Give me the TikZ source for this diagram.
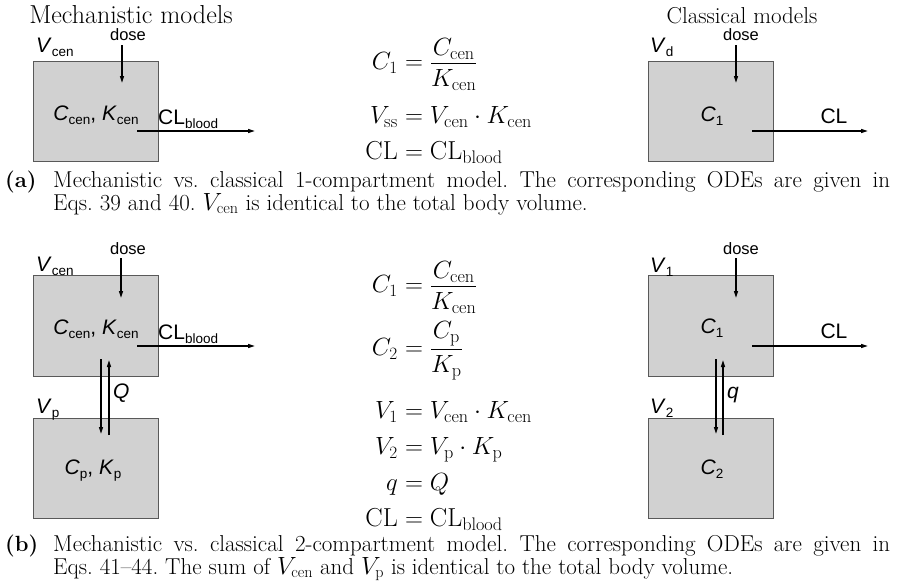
\documentclass[tikz,border=0pt]{standalone}
\usepackage{fontspec}
\usepackage{amsmath}
\usetikzlibrary{arrows.meta}
\newfontfamily\labfont{Liberation Sans}
\newcommand\lsub[1]{\raisebox{-4.5pt}{\fontsize{13.5}{14}\selectfont #1}}
\newcommand\numer[1]{\lower4.5pt\hbox{$\displaystyle #1$}}
\tikzset{
  comp/.style={draw=black!65, line width=0.8pt, fill=black!18, minimum width=125pt, minimum height=100pt, inner sep=0pt, outer sep=0pt},
  lab/.style={font=\labfont\fontsize{21}{22}\selectfont, inner sep=0pt},
  doselab/.style={font=\labfont\fontsize{16.5}{18}\selectfont, inner sep=0pt, anchor=base},
  flow/.style={line width=1.3pt, -{Triangle[length=7pt,width=4pt]}},
  eq/.style={font=\fontsize{26}{30}\selectfont, inner sep=0pt},
  ttl/.style={inner sep=0pt, anchor=base},
  captext/.style={font=\fontsize{23}{25}\selectfont\frenchspacing, inner sep=0pt, anchor=base west},
  caplab/.style={font=\fontsize{22}{24}\selectfont\bfseries, inner sep=0pt, anchor=base west},
}
\begin{document}
\begin{tikzpicture}[x=1pt,y=-1pt]
\useasboundingbox (0,0) rectangle (898,584);
% titles
\node[ttl, font=\fontsize{26}{30}\selectfont] (t1) at (131,23) {Mechanistic models};
\node[ttl, font=\fontsize{23}{27}\selectfont] (t2) at (742,23) {Classical models};
% ---------- panel (a) left
\node[comp] (a1) at (95.5,111) {};
\node[lab, anchor=base west] (a1v) at (36,52) {\textit{V}\lsub{cen}};
\node[doselab] (a1d) at (128,40.5) {dose};
\coordinate (a1ds) at (122,45); \coordinate (a1de) at (122,83);
\draw[flow] (a1ds) -- (a1de);
\node[lab, anchor=base] (a1c) at (96,120) {\textit{C}\lsub{cen}, \textit{K}\lsub{cen}};
\node[lab, anchor=base west] (a1cl) at (158,124) {CL\lsub{blood}};
\coordinate (a1o) at (137,131); \coordinate (a1e) at (255,131);
\draw[flow] (a1o) -- (a1e);
% ---------- panel (a) right
\node[comp] (a2) at (710.5,111) {};
\node[lab, anchor=base west] (a2v) at (650,52) {\textit{V}\lsub{d}};
\node[doselab] (a2d) at (741,40.5) {dose};
\coordinate (a2ds) at (736,45); \coordinate (a2de) at (736,83);
\draw[flow] (a2ds) -- (a2de);
\node[lab, anchor=base] (a2c) at (712,121) {\textit{C}\lsub{1}};
\node[lab, anchor=base] (a2cl) at (834,123) {CL};
\coordinate (a2o) at (752,131); \coordinate (a2e) at (868,131);
\draw[flow] (a2o) -- (a2e);
% ---------- equations (a)
\node[eq, anchor=base east] (ea1l) at (398,69.5) {$C_1$};
\node[eq, anchor=base west] (ea1r) at (398,69.5) {$\displaystyle{}=\frac{\numer{C_{\mathrm{cen}}}}{K_{\mathrm{cen}}}$};
\node[eq, anchor=base east] (ea2l) at (398,123.5) {$V_{\mathrm{ss}}$};
\node[eq, anchor=base west] (ea2r) at (398,123.5) {$\displaystyle{}=V_{\mathrm{cen}}\cdot K_{\mathrm{cen}}$};
\node[eq, anchor=base east] (ea3l) at (398,159.5) {$\mathrm{CL}$};
\node[eq, anchor=base west] (ea3r) at (398,159.5) {$\displaystyle{}=\mathrm{CL}_{\mathrm{blood}}$};
% ---------- caption (a)
\node[caplab] (capa) at (5,187) {(a)};
\node[captext] (capa1) at (53,187) {\makebox[837pt][s]{Mechanistic vs. classical 1-compartment model. The corresponding ODEs are given in}};
\node[captext] (capa2) at (53,210) {Eqs.~39 and 40. $V_{\mathrm{cen}}$ is identical to the total body volume.};
% ---------- panel (b) left
\node[comp, minimum height=101pt] (b1) at (95.5,325.5) {};
\node[comp] (b2) at (95.5,468) {};
\node[lab, anchor=base west] (b1v) at (36,271) {\textit{V}\lsub{cen}};
\node[doselab] (b1d) at (128,254) {dose};
\coordinate (b1ds) at (121,258); \coordinate (b1de) at (121,298);
\draw[flow] (b1ds) -- (b1de);
\node[lab, anchor=base] (b1c) at (96,334) {\textit{C}\lsub{cen}, \textit{K}\lsub{cen}};
\node[lab, anchor=base west] (b1cl) at (158,339) {CL\lsub{blood}};
\coordinate (b1o) at (137,346); \coordinate (b1e) at (255,346);
\draw[flow] (b1o) -- (b1e);
\coordinate (b1q1) at (101,359); \coordinate (b1q2) at (101,434);
\coordinate (b1q3) at (109,435); \coordinate (b1q4) at (109,360);
\draw[flow] (b1q1) -- (b1q2);
\draw[flow] (b1q3) -- (b1q4);
\node[lab, anchor=base west] (b1q) at (113,398) {\textit{Q}};
\node[lab, anchor=base west] (b2v) at (36,413) {\textit{V}\lsub{p}};
\node[lab, anchor=base] (b2c) at (93,474) {\textit{C}\lsub{p}, \textit{K}\lsub{p}};
% ---------- panel (b) right
\node[comp, minimum height=101pt] (b3) at (710.5,325.5) {};
\node[comp] (b4) at (710.5,468) {};
\node[lab, anchor=base west] (b3v) at (650,272) {\textit{V}\lsub{1}};
\node[doselab] (b3d) at (741,254) {dose};
\coordinate (b3ds) at (736,258); \coordinate (b3de) at (736,298);
\draw[flow] (b3ds) -- (b3de);
\node[lab, anchor=base] (b3c) at (712,333) {\textit{C}\lsub{1}};
\node[lab, anchor=base] (b3cl) at (834,338) {CL};
\coordinate (b3o) at (752,346); \coordinate (b3e) at (868,346);
\draw[flow] (b3o) -- (b3e);
\coordinate (b3q1) at (716,359); \coordinate (b3q2) at (716,434);
\coordinate (b3q3) at (723,435); \coordinate (b3q4) at (723,360);
\draw[flow] (b3q1) -- (b3q2);
\draw[flow] (b3q3) -- (b3q4);
\node[lab, anchor=base west] (b3q) at (727,398) {\textit{q}};
\node[lab, anchor=base west] (b4v) at (650,413) {\textit{V}\lsub{2}};
\node[lab, anchor=base] (b4c) at (712,474) {\textit{C}\lsub{2}};
% ---------- equations (b)
\node[eq, anchor=base east] (eb1l) at (398,292.5) {$C_1$};
\node[eq, anchor=base west] (eb1r) at (398,292.5) {$\displaystyle{}=\frac{\numer{C_{\mathrm{cen}}}}{K_{\mathrm{cen}}}$};
\node[eq, anchor=base east] (eb2l) at (398,355.5) {$C_2$};
\node[eq, anchor=base west] (eb2r) at (398,355.5) {$\displaystyle{}=\frac{\numer{C_{\mathrm{p}}}}{K_{\mathrm{p}}}$};
\node[eq, anchor=base east] (eb3l) at (398,418.5) {$V_1$};
\node[eq, anchor=base west] (eb3r) at (398,418.5) {$\displaystyle{}=V_{\mathrm{cen}}\cdot K_{\mathrm{cen}}$};
\node[eq, anchor=base east] (eb4l) at (398,454.5) {$V_2$};
\node[eq, anchor=base west] (eb4r) at (398,454.5) {$\displaystyle{}=V_{\mathrm{p}}\cdot K_{\mathrm{p}}$};
\node[eq, anchor=base east] (eb5l) at (398,490.5) {$q$};
\node[eq, anchor=base west] (eb5r) at (398,490.5) {$\displaystyle{}=Q$};
\node[eq, anchor=base east] (eb6l) at (398,526.5) {$\mathrm{CL}$};
\node[eq, anchor=base west] (eb6r) at (398,526.5) {$\displaystyle{}=\mathrm{CL}_{\mathrm{blood}}$};
% ---------- caption (b)
\node[caplab] (capb) at (5,551) {(b)};
\node[captext] (capb1) at (53,551) {\makebox[837pt][s]{Mechanistic vs. classical 2-compartment model. The corresponding ODEs are given in}};
\node[captext] (capb2) at (53,574) {Eqs.~41--44. The sum of $V_{\mathrm{cen}}$ and $V_{\mathrm{p}}$ is identical to the total body volume.};
\end{tikzpicture}
\end{document}
